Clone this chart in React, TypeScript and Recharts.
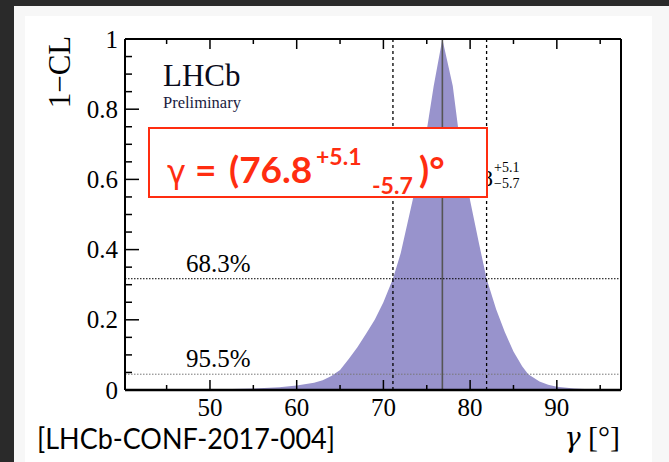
import React from 'react';
import { ComposedChart, Area, XAxis, YAxis, ReferenceLine } from 'recharts';

// gamma scan: 1-CL versus gamma (degrees)
const GAMMA = [40.2, 45, 50, 55, 58, 60, 62, 63, 64, 65, 66, 67, 68, 69, 70, 71.1, 72, 73, 74, 75, 75.8, 76.8, 78, 78.6, 79, 80, 81, 81.9, 83, 84, 85, 86, 86.7, 88, 89, 90, 92, 95, 97.4];
const ONE_MINUS_CL = [0, 0.0005, 0.0015, 0.004, 0.008, 0.013, 0.021, 0.028, 0.04, 0.057, 0.088, 0.122, 0.16, 0.2, 0.25, 0.317, 0.39, 0.5, 0.61, 0.74, 0.866, 1, 0.866, 0.75, 0.69, 0.54, 0.42, 0.317, 0.23, 0.165, 0.11, 0.068, 0.045, 0.024, 0.015, 0.009, 0.004, 0.001, 0];

const BEST_FIT = 76.8;
const INTERVAL_LOW = 71.1;
const INTERVAL_HIGH = 81.9;
const CL_68 = 0.317;
const CL_95 = 0.045;

const X_DOMAIN = [40.2, 97.4];
const X_TICKS = [45, 50, 55, 60, 65, 70, 75, 80, 85, 90, 95];
const Y_TICKS = Array.from({ length: 21 }, (_, i) => +(i * 0.05).toFixed(2));

const data = GAMMA.map((g, i) => ({ g, cl: ONE_MINUS_CL[i] }));

const SERIF = '"Liberation Serif", "Times New Roman", serif';
const SANS = 'Lato, sans-serif';
const RED = '#ff2d10';

const isMajorX = (v: number) => Math.abs(v % 10) < 1e-6;
const isMajorY = (v: number) => Math.round(v * 100) % 20 === 0;

const BottomTick = ({ x, y, payload }: any) => {
  const major = isMajorX(payload.value);
  return (
    <g>
      <line x1={x} x2={x} y1={y} y2={y - (major ? 10 : 5)} stroke="#000" strokeWidth={1.5} />
      {major && (
        <text x={x} y={y + 26} textAnchor="middle" style={{ fontFamily: SERIF, fontSize: 25 }} fill="#000">
          {payload.value}
        </text>
      )}
    </g>
  );
};

const TopTick = ({ x, y, payload }: any) => {
  const major = isMajorX(payload.value);
  return <line x1={x} x2={x} y1={y} y2={y + (major ? 10 : 5)} stroke="#000" strokeWidth={1.5} />;
};

const LeftTick = ({ x, y, payload }: any) => {
  const v = payload.value;
  const major = isMajorY(v);
  const label = v === 0 ? '0' : v === 1 ? '1' : v.toFixed(1);
  return (
    <g>
      <line x1={x} x2={x + (major ? 14 : 7)} y1={y} y2={y} stroke="#000" strokeWidth={1.5} />
      {major && (
        <text x={x - 7} y={y + 8.5} textAnchor="end" style={{ fontFamily: SERIF, fontSize: 25 }} fill="#000">
          {label}
        </text>
      )}
    </g>
  );
};

const RightTick = ({ x, y, payload }: any) => {
  const major = isMajorY(payload.value);
  return <line x1={x} x2={x - (major ? 14 : 7)} y1={y} y2={y} stroke="#000" strokeWidth={1.5} />;
};

const clLabel = (text: string) => (props: any) => {
  const { viewBox } = props;
  return (
    <text x={viewBox.x + 61} y={viewBox.y - 7} style={{ fontFamily: SERIF, fontSize: 25 }} fill="#000">
      {text}
    </text>
  );
};

export default function App() {
  return (
    <div style={{ position: 'relative', width: 669, height: 462, background: '#2a2a2a', overflow: 'hidden' }}>
      <style>{'body{margin:0}'}</style>
      <div style={{ position: 'absolute', left: 14, top: 6, right: 0, bottom: 0, background: '#f7f7f7' }} />
      <div style={{ position: 'absolute', left: 25, top: 16, width: 627, height: 446, background: '#fff' }} />

      <div style={{ position: 'absolute', left: 0, top: 0 }}>
        <ComposedChart width={669} height={462} data={data} margin={{ top: 38, right: 47, bottom: 42, left: 0 }}>
          <XAxis
            xAxisId="b"
            dataKey="g"
            type="number"
            domain={X_DOMAIN}
            allowDataOverflow
            ticks={X_TICKS}
            interval={0}
            height={30}
            tickSize={0}
            tickMargin={0}
            tickLine={false}
            tick={<BottomTick />}
            axisLine={{ stroke: '#000', strokeWidth: 2.5 }}
          />
          <XAxis
            xAxisId="t"
            orientation="top"
            dataKey="g"
            type="number"
            domain={X_DOMAIN}
            allowDataOverflow
            ticks={X_TICKS}
            interval={0}
            height={1}
            tickSize={0}
            tickMargin={0}
            tickLine={false}
            tick={<TopTick />}
            axisLine={{ stroke: '#000', strokeWidth: 2 }}
          />
          <YAxis
            yAxisId="l"
            type="number"
            domain={[0, 1]}
            ticks={Y_TICKS}
            interval={0}
            width={125}
            tickSize={0}
            tickMargin={0}
            tickLine={false}
            tick={<LeftTick />}
            axisLine={{ stroke: '#000', strokeWidth: 2 }}
          />
          <YAxis
            yAxisId="r"
            orientation="right"
            type="number"
            domain={[0, 1]}
            ticks={Y_TICKS}
            interval={0}
            width={1}
            tickSize={0}
            tickMargin={0}
            tickLine={false}
            tick={<RightTick />}
            axisLine={{ stroke: '#000', strokeWidth: 2 }}
          />
          <Area
            xAxisId="b"
            yAxisId="l"
            type="linear"
            dataKey="cl"
            stroke="none"
            fill="#9893cc"
            fillOpacity={1}
            isAnimationActive={false}
          />
          <ReferenceLine xAxisId="b" yAxisId="l" x={INTERVAL_LOW} stroke="#000" strokeWidth={1.3} strokeDasharray="3 3" />
          <ReferenceLine xAxisId="b" yAxisId="l" x={INTERVAL_HIGH} stroke="#000" strokeWidth={1.3} strokeDasharray="3 3" />
          <ReferenceLine xAxisId="b" yAxisId="l" x={BEST_FIT} stroke="#555" strokeWidth={1.6} />
          <ReferenceLine xAxisId="b" yAxisId="l" y={CL_68} stroke="#000" strokeWidth={1} strokeDasharray="1.5 1.5" label={clLabel('68.3%')} />
          <ReferenceLine xAxisId="b" yAxisId="l" y={CL_95} stroke="#777" strokeWidth={1} strokeDasharray="1.5 1.5" label={clLabel('95.5%')} />
        </ComposedChart>
      </div>

      <svg width={669} height={462} style={{ position: 'absolute', left: 0, top: 0, pointerEvents: 'none' }}>
        <text transform="translate(70,72) rotate(-90)" textAnchor="middle" style={{ fontFamily: SERIF, fontSize: 31 }} fill="#000">
          1−CL
        </text>
        <text x={163} y={86} style={{ fontFamily: SERIF, fontSize: 31 }} fill="#0a0a1a">LHCb</text>
        <text x={163} y={108} style={{ fontFamily: SERIF, fontSize: 16.5 }} fill="#1a1a40">Preliminary</text>

        {/* plot legend text partly hidden under the result box */}
        <text x={493} y={186} textAnchor="end" style={{ fontFamily: SERIF, fontSize: 24 }} fill="#000">76.8</text>
        <text x={494} y={172} style={{ fontFamily: SERIF, fontSize: 14 }} fill="#000">+5.1</text>
        <text x={494} y={188} style={{ fontFamily: SERIF, fontSize: 14 }} fill="#000">−5.7</text>

        <rect x={149} y={128} width={338} height={69} fill="#fff" stroke={RED} strokeWidth={2} />
        <text x={167} y={183} style={{ fontFamily: '"DejaVu Sans", sans-serif', fontSize: 32 }} fill={RED}>γ</text>
        <text x={195} y={183} style={{ fontFamily: SANS, fontWeight: 700, fontSize: 37 }} fill={RED}>=</text>
        <text x={229} y={183} style={{ fontFamily: SANS, fontWeight: 700, fontSize: 37 }} fill={RED}>(76.8</text>
        <text x={316} y={165} style={{ fontFamily: SANS, fontWeight: 700, fontSize: 23 }} fill={RED}>+5.1</text>
        <text x={372} y={194} style={{ fontFamily: SANS, fontWeight: 700, fontSize: 23 }} fill={RED}>-5.7</text>
        <text x={419} y={183} style={{ fontFamily: SANS, fontWeight: 700, fontSize: 37 }} fill={RED}>)°</text>

        <text x={620} y={447} textAnchor="end" style={{ fontFamily: SERIF, fontSize: 30 }} fill="#000">
          <tspan style={{ fontFamily: '"DejaVu Serif", serif', fontStyle: 'italic', fontSize: 27 }}>γ</tspan>
          <tspan> [°]</tspan>
        </text>
        <text x={37} y={449} style={{ fontFamily: SANS, fontSize: 28 }} fill="#000" textLength={298} lengthAdjust="spacingAndGlyphs">
          [LHCb-CONF-2017-004]
        </text>
      </svg>
    </div>
  );
}
